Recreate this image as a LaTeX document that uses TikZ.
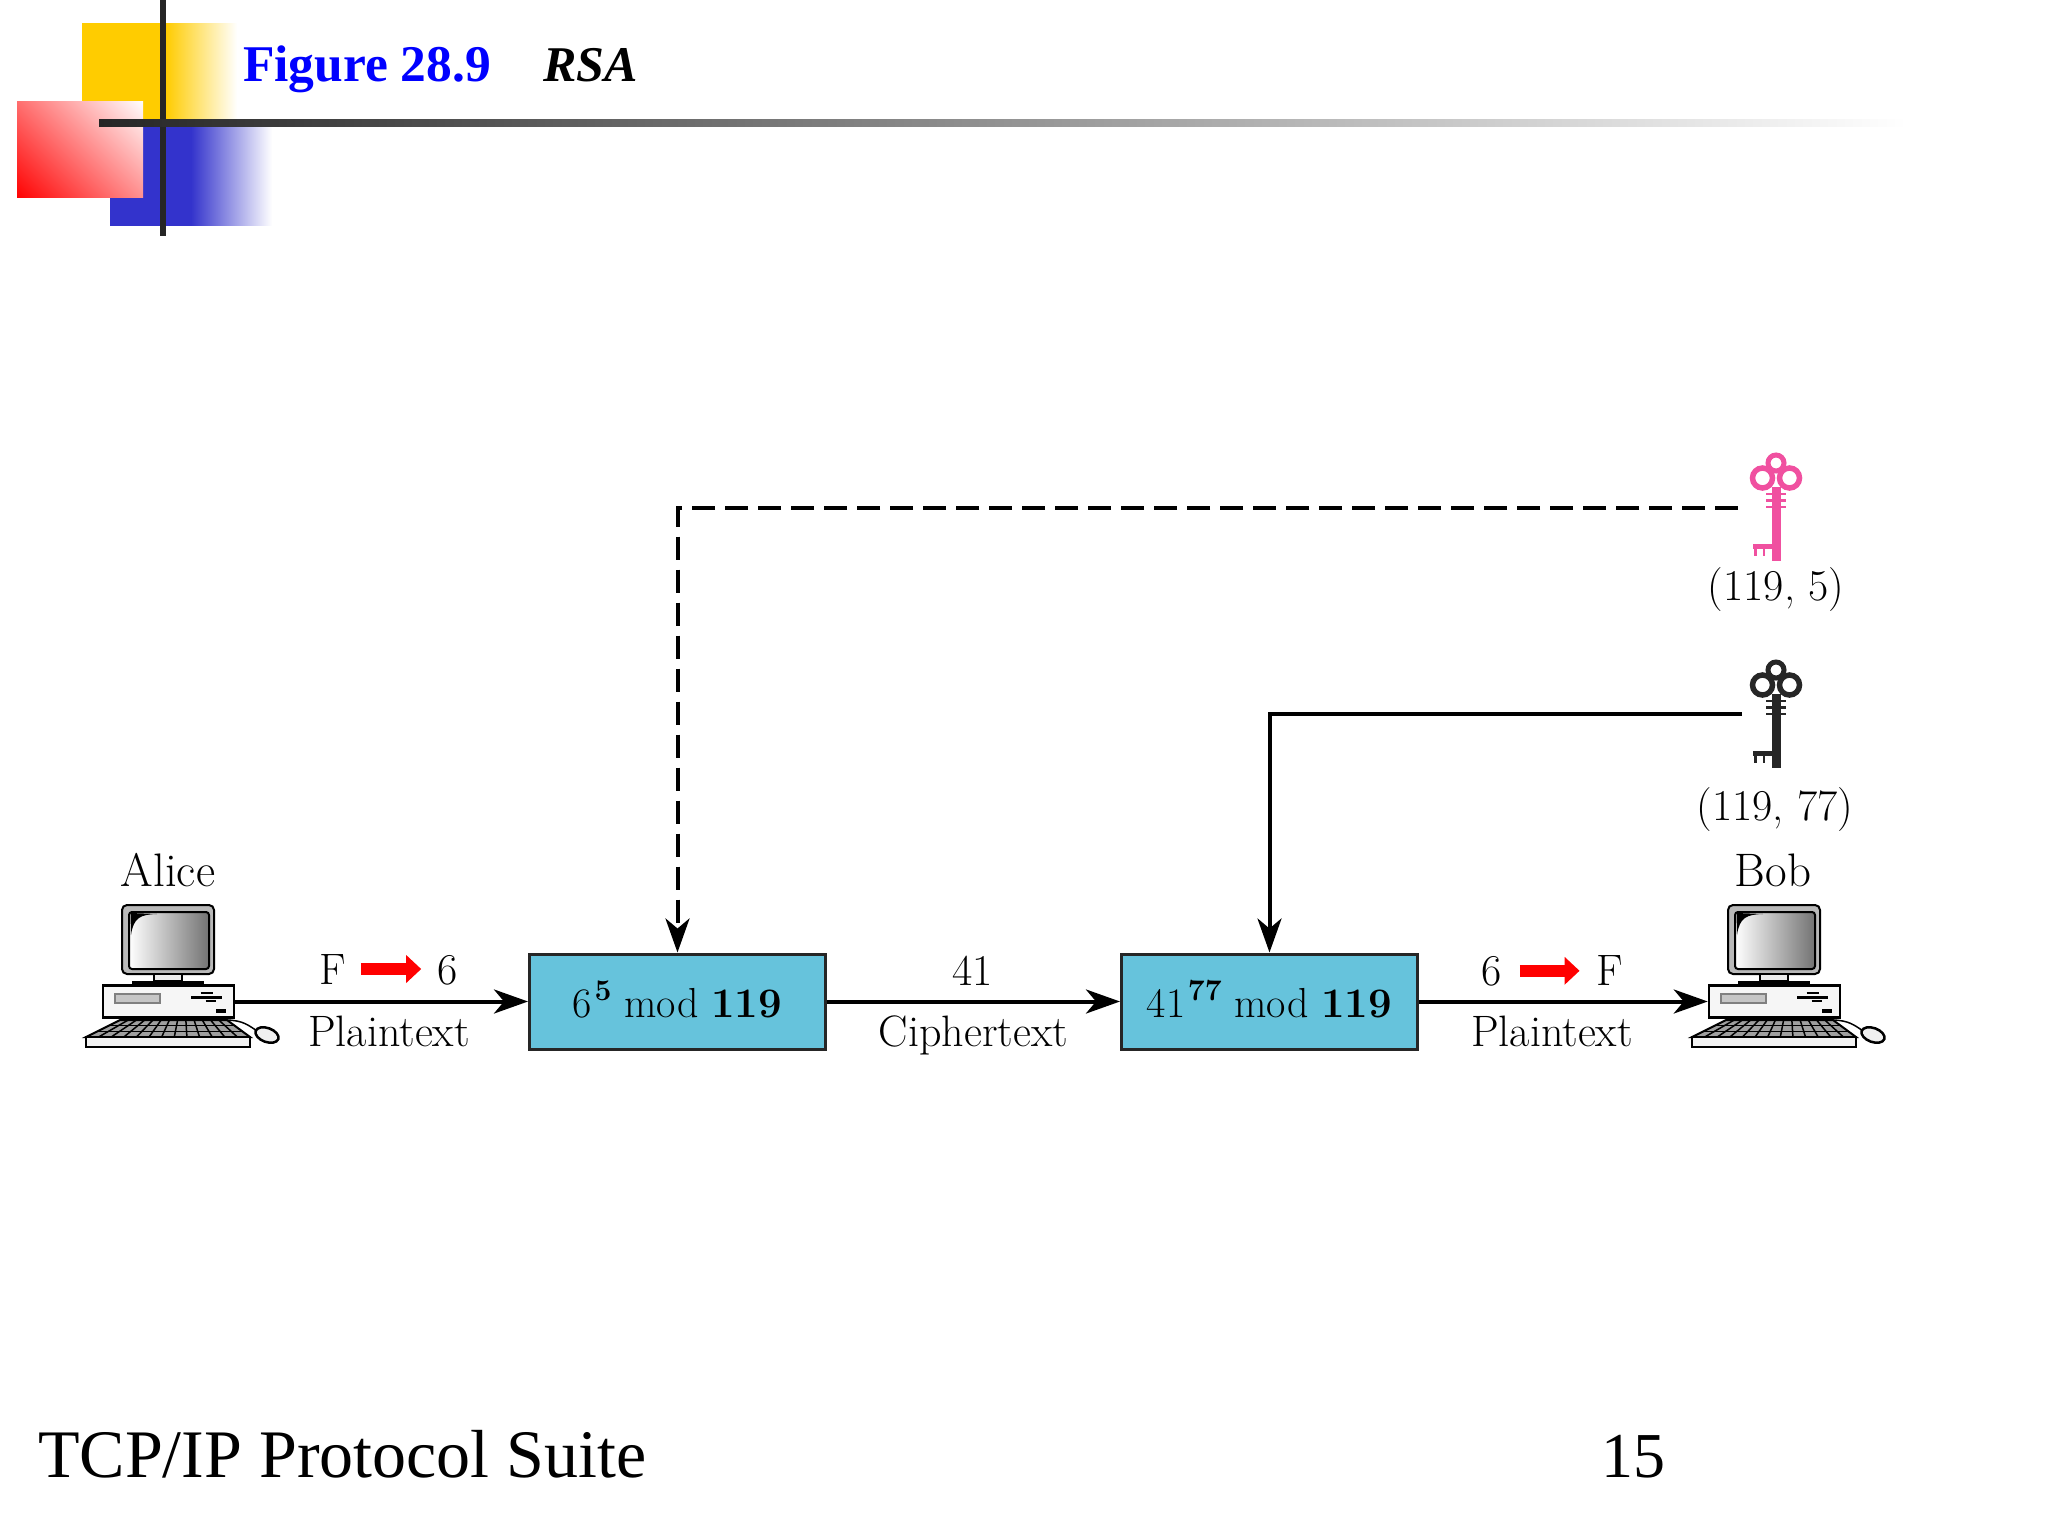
\documentclass[tikz,border=0pt]{standalone}
\usepackage{fontspec}
\usetikzlibrary{arrows.meta}
\newfontfamily\pptfont{Liberation Serif}
\definecolor{logoyellow}{RGB}{255,204,0}
\definecolor{logoblue}{RGB}{51,51,204}
\definecolor{linedark}{RGB}{38,38,38}
\definecolor{boxblue}{RGB}{102,195,220}
\definecolor{keypink}{RGB}{240,80,160}
\pgfdeclarehorizontalshading{yellowfade}{100bp}{color(0bp)=(logoyellow); color(52bp)=(logoyellow); color(75bp)=(white); color(100bp)=(white)}
\pgfdeclarehorizontalshading{bluefade}{100bp}{color(0bp)=(logoblue); color(50bp)=(logoblue); color(75bp)=(white); color(100bp)=(white)}
\pgfdeclareverticalshading{redfade}{100bp}{color(0bp)=(red); color(25bp)=(red); color(75bp)=(white); color(100bp)=(white)}
\newcommand{\supnum}[1]{\kern2.5pt\raisebox{17pt}{\fontsize{30}{32}\selectfont\bfseries #1}}
\tikzset{
  every node/.style={inner sep=0pt},
  lbl/.style={anchor=base,font=\fontsize{44}{52}\selectfont},
  modbox/.style={draw=linedark,line width=3pt,fill=boxblue,minimum width=296pt,minimum height=95pt,
    font=\fontsize{42}{50}\selectfont,text height=32pt,text depth=0pt},
  conn/.style={line width=4pt,-{Stealth[length=34pt,width=24pt,inset=10pt]}},
  redarrow/.style={red,line width=12pt,-{Triangle[length=15pt,width=27pt]}},
  pics/computer/.style={code={
    % monitor
    \draw[line width=2pt,fill=gray!55,rounded corners=5pt] (-46.5,-96.5) rectangle (45.5,-27.5);
    \draw[line width=2pt,left color=white,right color=gray!90!black,rounded corners=3pt] (-39.5,-89.5) rectangle (40.5,-32.5);
    \fill (-38,-88.5) -- (-11.5,-87.5) .. controls (-28,-87) and (-35,-84) .. (-37.5,-66.5) -- cycle;
    \draw[line width=1.5pt,fill=gray!15] (-14.5,-27.5) rectangle (13.5,-20.5);
    \fill (-36.5,-20.5) rectangle (35.5,-15.5);
    % case
    \node[draw,line width=2.5pt,fill=gray!7,minimum width=131pt,minimum height=32pt] (-case) at (0,0) {};
    \draw[line width=1.5pt,draw=gray,fill=gray!45] (-53.5,-7.5) rectangle (-8.5,1.5);
    \draw[line width=3pt] (22.5,-4.5) -- (53.5,-4.5);
    \draw[line width=2pt] (32,-8.5) -- (44,-8.5) (37,-0.5) -- (47,-0.5);
    \fill (47.5,7.5) rectangle (57.5,11.5);
    \draw[line width=2pt] (-45,16) -- (-45,19) (54,16) -- (54,19);
    % keyboard
    \draw[line width=2pt,fill=gray!75] (-48.5,18.5) -- (58.5,18.5) -- (81.5,35.5) -- (-82.5,35.5) -- cycle;
    \foreach \i in {1,...,12}
      \draw[line width=1.5pt] ({-48.5+\i*107/13},18.5) -- ({-82.5+\i*164/13},35.5);
    \draw[line width=1.5pt] (-59.8,24.2) -- (66.2,24.2) (-71.2,29.8) -- (73.8,29.8);
    \draw[line width=2.5pt,fill=gray!10] (-82.5,35.5) rectangle (81.5,45.5);
    % mouse
    \draw[line width=1.5pt] (58.5,18.5) .. controls (75,19) and (80,24) .. (88,29);
    \draw[line width=2.5pt,fill=gray!12,rotate around={-20:(98.5,33.5)}] (98.5,33.5) ellipse [x radius=12,y radius=7];
  }},
  pics/key/.style={code={
    \draw[#1,line width=5pt] (0,0) circle [radius=8];
    \draw[#1,line width=5.5pt] (-13.5,15) circle [radius=10] (13.5,15) circle [radius=10];
    \fill[#1] (-4.5,24) rectangle (5,98);
    \draw[#1,line width=2.5pt] (-10,31) -- (10,31) (-10,37.5) -- (10,37.5) (-10,44) -- (10,44);
    \fill[#1] (-23.5,81) rectangle (-4.5,85.5);
    \draw[#1,line width=2.5pt] (-20.5,85) -- (-20.5,93) (-12,85) -- (-12,93);
  }}
}
\begin{document}
\begin{tikzpicture}[x=1pt,y=-1pt]
\useasboundingbox (0,0) rectangle (2048,1536);

% slide logo
\shade[shading=yellowfade] (82,24) rectangle (237,124);
\shade[shading=bluefade] (110,124) rectangle (272,225);
\begin{scope}
  \clip (17,102) rectangle (143,197);
  \shade[shading=redfade,shading angle=-45] (0,69.5) rectangle (160,229.5);
\end{scope}
\fill[linedark] (159.5,0) rectangle (166,236);
\shade[left color=linedark,right color=white] (99,120) rectangle (1907,127);

% title and footer
\node[anchor=base west,text=blue,font=\pptfont\bfseries\fontsize{51.5}{60}\selectfont] (title) at (243,82) {Figure 28.9};
\node[anchor=base west,font=\pptfont\bfseries\itshape\fontsize{50}{60}\selectfont] (rsa) at (543,82) {RSA};
\node[anchor=base west,font=\pptfont\fontsize{68}{80}\selectfont] (suite) at (38,1477.5) {TCP/IP Protocol Suite};
\node[anchor=base west,font=\pptfont\fontsize{64}{80}\selectfont] (page) at (1601,1477.5) {15};

% computers
\pic (alice) at (168.5,1001.5) {computer};
\pic (bob) at (1774.5,1001.5) {computer};
\node[lbl,font=\fontsize{47}{52}\selectfont] (alicename) at (168,886) {Alice};
\node[lbl,font=\fontsize{47}{52}\selectfont] (bobname) at (1773,886) {Bob};

% boxes
\node[modbox] (enc) at (677.5,1001.5) {6\supnum{5} mod \textbf{119}};
\node[modbox] (dec) at (1269.5,1001.5) {41\supnum{77} mod \textbf{119}};

% keys
\pic at (1776,463) {key=keypink};
\pic at (1776,670) {key=linedark};
\node[lbl] (pubkey) at (1776,600) {(119, 5)};
\node[lbl] (privkey) at (1775,820) {(119, 77)};
\coordinate (pubend) at (1738,508);
\coordinate (privend) at (1742,714);

% connectors
\draw[conn] (alice-case) -- (enc);
\draw[conn] (enc) -- (dec);
\draw[conn] (dec) -- (bob-case);
\draw[conn,dash pattern=on 23pt off 10pt] (pubend) -| (enc);
\draw[conn] (privend) -| (dec);

% arrow labels
\node[lbl] (f1) at (332.5,984) {F};
\node[lbl] (six1) at (447.5,984) {6};
\node[lbl] (plain1) at (389,1046) {Plaintext};
\node[lbl] (num) at (972.5,985) {41};
\node[lbl] (cipher) at (973.5,1046) {Ciphertext};
\node[lbl] (six2) at (1491.5,985) {6};
\node[lbl] (f2) at (1610,985) {F};
\node[lbl] (plain2) at (1552,1046) {Plaintext};
\draw[redarrow,shorten <=15pt,shorten >=16pt] (f1.east) -- (f1.east -| six1.west);
\draw[redarrow,shorten <=18pt,shorten >=17pt] (six2.east) -- (six2.east -| f2.west);
\end{tikzpicture}
\end{document}
